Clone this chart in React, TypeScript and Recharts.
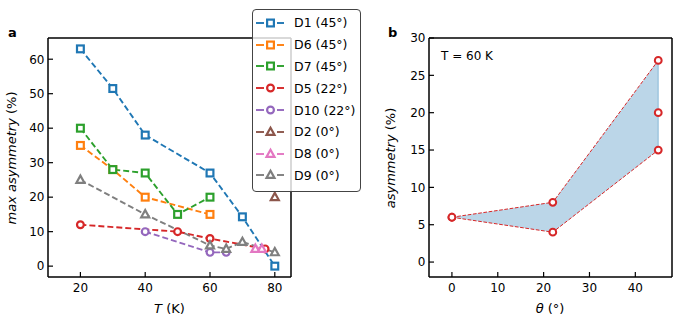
import { ComposedChart, Line, Area, XAxis, YAxis, ReferenceLine } from 'recharts';

// panel a: max asymmetry vs temperature, one pair of arrays per device
const d1T = [20, 30, 40, 60, 70, 80];
const d1Asym = [63, 51.5, 38, 27, 14.3, 0];
const d6T = [20, 30, 40, 60];
const d6Asym = [35, 28, 20, 15];
const d7T = [20, 30, 40, 50, 60];
const d7Asym = [40, 28, 27, 15, 20];
const d5T = [20, 50, 60, 77];
const d5Asym = [12, 10, 8, 5];
const d10T = [40, 60, 65];
const d10Asym = [10, 4, 4];
const d2T = [80];
const d2Asym = [20];
const d8T = [74, 76];
const d8Asym = [5, 5];
const d9T = [20, 40, 60, 65, 70, 80];
const d9Asym = [25, 15, 6, 5, 7, 4];

const tempTicks = [20, 40, 60, 80];
const asymTicksA = [0, 10, 20, 30, 40, 50, 60];

// panel b: asymmetry vs twist angle at 60 K
const thetaDeg = [0, 22, 45];
const maxAsym60K = [6, 8, 27];
const minAsym60K = [6, 4, 15];
const midTheta = [45];
const midAsym60K = [20];

const thetaTicks = [0, 10, 20, 30, 40];
const asymTicksB = [0, 5, 10, 15, 20, 25, 30];

type Shape = 'square' | 'circle' | 'triangle';

const pairs = (xs: number[], ys: number[]) => xs.map((x, i) => ({ x, y: ys[i] }));

const seriesA = [
  { name: 'D1 (45°)', color: '#1f77b4', shape: 'square' as Shape, data: pairs(d1T, d1Asym) },
  { name: 'D6 (45°)', color: '#ff7f0e', shape: 'square' as Shape, data: pairs(d6T, d6Asym) },
  { name: 'D7 (45°)', color: '#2ca02c', shape: 'square' as Shape, data: pairs(d7T, d7Asym) },
  { name: 'D5 (22°)', color: '#d62728', shape: 'circle' as Shape, data: pairs(d5T, d5Asym) },
  { name: 'D10 (22°)', color: '#9467bd', shape: 'circle' as Shape, data: pairs(d10T, d10Asym) },
  { name: 'D2 (0°)', color: '#8c564b', shape: 'triangle' as Shape, data: pairs(d2T, d2Asym) },
  { name: 'D8 (0°)', color: '#e377c2', shape: 'triangle' as Shape, data: pairs(d8T, d8Asym) },
  { name: 'D9 (0°)', color: '#7f7f7f', shape: 'triangle' as Shape, data: pairs(d9T, d9Asym) },
];

const bandData = thetaDeg.map((t, i) => ({
  x: t,
  hi: maxAsym60K[i],
  lo: minAsym60K[i],
  band: [minAsym60K[i], maxAsym60K[i]],
}));
const last = thetaDeg.length - 1;
const edgeData = [
  { x: thetaDeg[last], y: minAsym60K[last] },
  { x: thetaDeg[last], y: maxAsym60K[last] },
];
const midData = pairs(midTheta, midAsym60K);

const FONT = 'DejaVu Sans';

function Marker({ cx, cy, shape, color, sw = 2.2 }: { cx?: number; cy?: number; shape: Shape; color: string; sw?: number }) {
  if (cx == null || cy == null) return null;
  if (shape === 'square')
    return <rect x={cx - 3.4} y={cy - 3.4} width={6.8} height={6.8} fill="#fff" stroke={color} strokeWidth={sw} />;
  if (shape === 'circle') return <circle cx={cx} cy={cy} r={3.4} fill="#fff" stroke={color} strokeWidth={sw} />;
  return (
    <polygon
      points={`${cx},${cy - 4.3} ${cx - 4},${cy + 2.9} ${cx + 4},${cy + 2.9}`}
      fill="#fff"
      stroke={color}
      strokeWidth={sw}
      strokeLinejoin="miter"
    />
  );
}

function BottomTick(props: any) {
  const { x, y, payload } = props;
  return (
    <g>
      <line x1={x} x2={x} y1={y} y2={y - 5} stroke="#000" strokeWidth={1.2} />
      <text x={x} y={y + 15} textAnchor="middle" fontFamily={FONT} fontSize={12} fill="#000">
        {payload.value}
      </text>
    </g>
  );
}

function LeftTick(props: any) {
  const { x, y, payload } = props;
  return (
    <g>
      <line x1={x} x2={x + 5} y1={y} y2={y} stroke="#000" strokeWidth={1.2} />
      <text x={x - 3.5} y={y + 4.3} textAnchor="end" fontFamily={FONT} fontSize={12} fill="#000">
        {payload.value}
      </text>
    </g>
  );
}

const spine = { stroke: '#000', strokeWidth: 1.5 };

function PanelA() {
  return (
    <ComposedChart width={300} height={319} margin={{ top: 38, right: 9, bottom: 12, left: 8 }}>
      <XAxis
        type="number"
        dataKey="x"
        domain={[10, 85]}
        ticks={tempTicks}
        allowDataOverflow
        interval={0}
        height={30}
        tickSize={0}
        tickMargin={0}
        tick={<BottomTick />}
        axisLine={spine}
      />
      <YAxis
        type="number"
        dataKey="y"
        domain={[-3.15, 66.15]}
        ticks={asymTicksA}
        allowDataOverflow
        interval={0}
        width={40}
        tickSize={0}
        tickMargin={0}
        tick={<LeftTick />}
        axisLine={spine}
      />
      <ReferenceLine y={66.15} {...spine} />
      <ReferenceLine x={85} {...spine} />
      {seriesA.map((s) => (
        <Line
          key={s.name}
          name={s.name}
          data={s.data}
          dataKey="y"
          type="linear"
          stroke={s.color}
          strokeWidth={1.9}
          strokeDasharray="6 3"
          isAnimationActive={false}
          dot={(p: any) => <Marker key={`${s.name}-${p.index}`} cx={p.cx} cy={p.cy} shape={s.shape} color={s.color} />}
          activeDot={false}
        />
      ))}
    </ComposedChart>
  );
}

function PanelB() {
  const red = '#d62728';
  const redDot = (p: any) => (
    <Marker key={`b-${p.dataKey}-${p.index}`} cx={p.cx} cy={p.cy} shape="circle" color={red} sw={2} />
  );
  return (
    <ComposedChart width={312} height={319} margin={{ top: 38, right: 20, bottom: 12, left: 9 }}>
      <XAxis
        type="number"
        dataKey="x"
        domain={[-5, 48]}
        ticks={thetaTicks}
        allowDataOverflow
        interval={0}
        height={30}
        tickSize={0}
        tickMargin={0}
        tick={<BottomTick />}
        axisLine={spine}
      />
      <YAxis
        type="number"
        domain={[-2, 30]}
        ticks={asymTicksB}
        allowDataOverflow
        interval={0}
        width={40}
        tickSize={0}
        tickMargin={0}
        tick={<LeftTick />}
        axisLine={spine}
      />
      <ReferenceLine y={30} {...spine} />
      <ReferenceLine x={48} {...spine} />
      <Area
        data={bandData}
        dataKey="band"
        type="linear"
        fill="#1f77b4"
        fillOpacity={0.3}
        stroke="none"
        isAnimationActive={false}
        activeDot={false}
      />
      <Line
        data={edgeData}
        dataKey="y"
        type="linear"
        stroke="#1f77b4"
        strokeOpacity={0.35}
        strokeWidth={1.2}
        dot={false}
        activeDot={false}
        isAnimationActive={false}
      />
      <Line
        data={bandData}
        dataKey="hi"
        type="linear"
        stroke={red}
        strokeWidth={1}
        strokeDasharray="3.7 1.6"
        dot={redDot}
        activeDot={false}
        isAnimationActive={false}
      />
      <Line
        data={bandData}
        dataKey="lo"
        type="linear"
        stroke={red}
        strokeWidth={1}
        strokeDasharray="3.7 1.6"
        dot={redDot}
        activeDot={false}
        isAnimationActive={false}
      />
      <Line
        data={midData}
        dataKey="y"
        type="linear"
        stroke={red}
        strokeWidth={1}
        dot={redDot}
        activeDot={false}
        isAnimationActive={false}
      />
    </ComposedChart>
  );
}

function LegendA() {
  return (
    <div
      style={{
        position: 'absolute',
        left: 252,
        top: 9,
        width: 107,
        height: 179,
        border: '1px solid #444',
        borderRadius: 4,
        background: 'rgba(255,255,255,0.8)',
        paddingTop: 2,
        boxSizing: 'content-box',
      }}
    >
      {seriesA.map((s) => (
        <div key={s.name} style={{ height: 21.8, display: 'flex', alignItems: 'center' }}>
          <svg width={40} height={14} style={{ flex: 'none' }}>
            <line x1={3} x2={11} y1={7} y2={7} stroke={s.color} strokeWidth={1.9} />
            <line x1={24} x2={31} y1={7} y2={7} stroke={s.color} strokeWidth={1.9} />
            <Marker cx={17.5} cy={7} shape={s.shape} color={s.color} />
          </svg>
          <span style={{ fontFamily: FONT, fontSize: 12.5, color: '#000', marginLeft: 1, whiteSpace: 'nowrap' }}>
            {s.name}
          </span>
        </div>
      ))}
    </div>
  );
}

export default function App() {
  return (
    <div style={{ position: 'absolute', left: 0, top: 0, width: 692, height: 319, background: '#fff' }}>
      <div style={{ position: 'absolute', left: 0, top: 0 }}>
        <PanelA />
      </div>
      <div style={{ position: 'absolute', left: 380, top: 0 }}>
        <PanelB />
      </div>
      <svg width={692} height={319} style={{ position: 'absolute', left: 0, top: 0, pointerEvents: 'none' }}>
        <g fontFamily={FONT} fill="#000">
          <text x={8} y={37} fontSize={13} fontWeight="bold">a</text>
          <text x={388} y={37} fontSize={13} fontWeight="bold">b</text>
          <text x={169.5} y={313} fontSize={13} textAnchor="middle">
            <tspan fontStyle="italic">T</tspan> (K)
          </text>
          <text transform="translate(16,158) rotate(-90)" fontSize={13} textAnchor="middle">
            <tspan fontStyle="italic">max asymmetry</tspan> (%)
          </text>
          <text x={550} y={313} fontSize={13} textAnchor="middle">
            <tspan fontStyle="italic">θ</tspan> (°)
          </text>
          <text transform="translate(395,158) rotate(-90)" fontSize={13} textAnchor="middle">
            <tspan fontStyle="italic">asymmetry</tspan> (%)
          </text>
          <text x={441} y={60} fontSize={12}>T = 60 K</text>
        </g>
      </svg>
      <LegendA />
    </div>
  );
}
